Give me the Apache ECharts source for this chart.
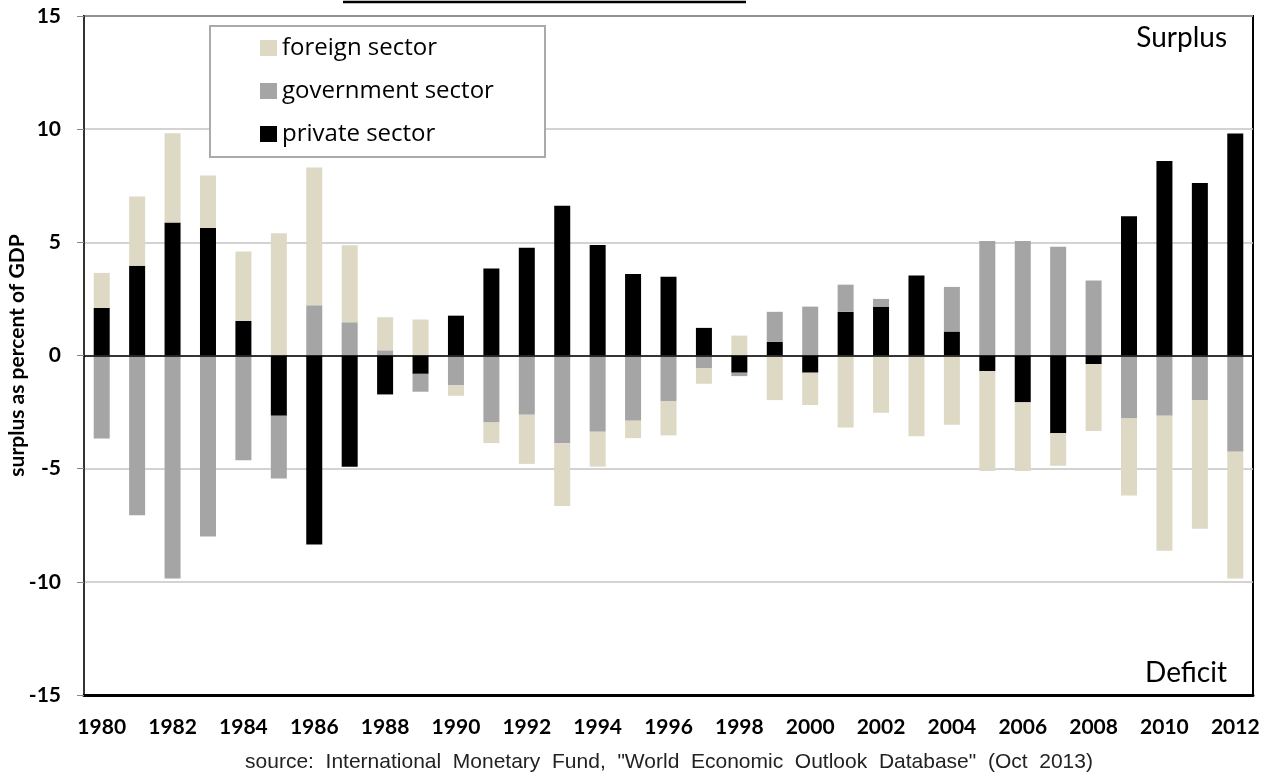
<!DOCTYPE html>
<html>
<head>
<meta charset="utf-8">
<script src="https://cdn.jsdelivr.net/npm/echarts@6/dist/echarts.min.js"></script>
<style>
  html, body { margin: 0; padding: 0; background: #fff; }
  #chart { width: 1268px; height: 778px; }
</style>
</head>
<body>
<div id="chart"></div>
<script>
// sectoral balances, % of GDP
const years = ['1980','1981','1982','1983','1984','1985','1986','1987','1988','1989',
  '1990','1991','1992','1993','1994','1995','1996','1997','1998','1999',
  '2000','2001','2002','2003','2004','2005','2006','2007','2008','2009',
  '2010','2011','2012']
const privateSector = [2.1, 3.97, 5.88, 5.63, 1.53, -2.66, -8.35, -4.91, -1.72, -0.81,
  1.76, 3.84, 4.76, 6.62, 4.88, 3.6, 3.48, 1.22, -0.76, 0.6,
  -0.76, 1.93, 2.16, 3.54, 1.06, -0.69, -2.07, -3.43, -0.38, 6.15,
  8.59, 7.62, 9.81]
const governmentSector = [-3.67, -7.06, -9.85, -8.0, -4.63, -2.77, 2.22, 1.47, 0.23, -0.79,
  -1.32, -2.96, -2.62, -3.88, -3.37, -2.88, -2.03, -0.57, -0.15, 1.33,
  2.16, 1.2, 0.34, 0, 1.97, 5.06, 5.06, 4.81, 3.31, -2.78,
  -2.66, -1.97, -4.25]
const foreignSector = [1.55, 3.06, 3.94, 2.32, 3.06, 5.4, 6.09, 3.4, 1.46, 1.59,
  -0.46, -0.91, -2.17, -2.77, -1.54, -0.77, -1.5, -0.68, 0.88, -1.97,
  -1.43, -3.18, -2.53, -3.57, -3.06, -4.41, -3.03, -1.44, -2.96, -3.41,
  -5.97, -5.68, -5.6]

const myChart = echarts.init(document.getElementById('chart'))

let option = {
  animation: false,
  grid: {
    left: 84,
    right: 15,
    top: 16,
    bottom: 83,
    outerBoundsMode: 'none',
    containLabel: false,
    show: true,
    borderColor: '#000',
    borderWidth: 2
  },
  legend: {
    orient: 'vertical',
    left: 260,
    top: 36,
    padding: 0,
    itemWidth: 17,
    itemHeight: 16,
    itemGap: 19,
    icon: 'rect',
    data: ['foreign sector', 'government sector', 'private sector'],
    textStyle: {
      fontFamily: 'Open Sans',
      fontSize: 24,
      lineHeight: 24,
      color: '#000'
    }
  },
  xAxis: {
    type: 'category',
    data: years,
    axisLine: { onZero: false, lineStyle: { color: '#000', width: 3 } },
    axisTick: { show: false },
    axisLabel: {
      interval: 1,
      margin: 22,
      fontFamily: 'Lato',
      fontWeight: 'bold',
      fontSize: 21,
      color: '#000'
    }
  },
  yAxis: {
    type: 'value',
    min: -15,
    max: 15,
    interval: 5,
    name: 'surplus as percent of GDP',
    nameLocation: 'middle',
    nameGap: 56,
    nameMoveOverlap: false,
    nameTextStyle: {
      fontFamily: 'Lato',
      fontWeight: 'bold',
      fontSize: 21,
      color: '#000'
    },
    axisLine: { show: true, lineStyle: { color: '#333', width: 2 } },
    axisTick: { show: true, length: 7, lineStyle: { color: '#888' } },
    axisLabel: {
      margin: 23,
      fontFamily: 'Lato',
      fontWeight: 'bold',
      fontSize: 21,
      color: '#000'
    },
    splitLine: { lineStyle: { color: '#c4c4c4', width: 1.5 } }
  },
  series: [
    {
      name: 'private sector',
      type: 'bar',
      stack: 'total',
      barWidth: 16,
      itemStyle: { color: '#000000' },
      data: privateSector,
      markLine: {
        silent: true,
        symbol: 'none',
        label: { show: false },
        lineStyle: { color: '#000', width: 1.5, type: 'solid' },
        data: [{ yAxis: 0 }]
      }
    },
    {
      name: 'government sector',
      type: 'bar',
      stack: 'total',
      barWidth: 16,
      itemStyle: { color: '#a5a5a5' },
      data: governmentSector
    },
    {
      name: 'foreign sector',
      type: 'bar',
      stack: 'total',
      barWidth: 16,
      itemStyle: { color: '#ddd9c4' },
      data: foreignSector
    }
  ],
  graphic: [
    {
      type: 'rect',
      z: 3,
      shape: { x: 210, y: 26, width: 335, height: 131 },
      style: { fill: '#fff', stroke: '#aaa', lineWidth: 2 }
    },
    {
      type: 'line',
      shape: { x1: 343, y1: 2, x2: 746, y2: 2 },
      style: { stroke: '#000', lineWidth: 2.5 }
    },
    {
      type: 'text',
      z: 5,
      style: {
        text: 'Surplus', x: 1227, y: 38,
        font: '28px Lato', fill: '#000',
        align: 'right', textAlign: 'right',
        verticalAlign: 'middle', textVerticalAlign: 'middle'
      }
    },
    {
      type: 'text',
      z: 5,
      style: {
        text: 'Deficit', x: 1227, y: 673,
        font: '28px Lato', fill: '#000',
        align: 'right', textAlign: 'right',
        verticalAlign: 'middle', textVerticalAlign: 'middle'
      }
    },
    {
      type: 'text',
      style: {
        text: 'source:  International  Monetary  Fund,  "World  Economic  Outlook  Database"  (Oct  2013)',
        x: 669, y: 762,
        font: '21px "Liberation Sans"', fill: '#222',
        align: 'center', textAlign: 'center',
        verticalAlign: 'middle', textVerticalAlign: 'middle'
      }
    }
  ]
}
myChart.setOption(option)
</script>
</body>
</html>
